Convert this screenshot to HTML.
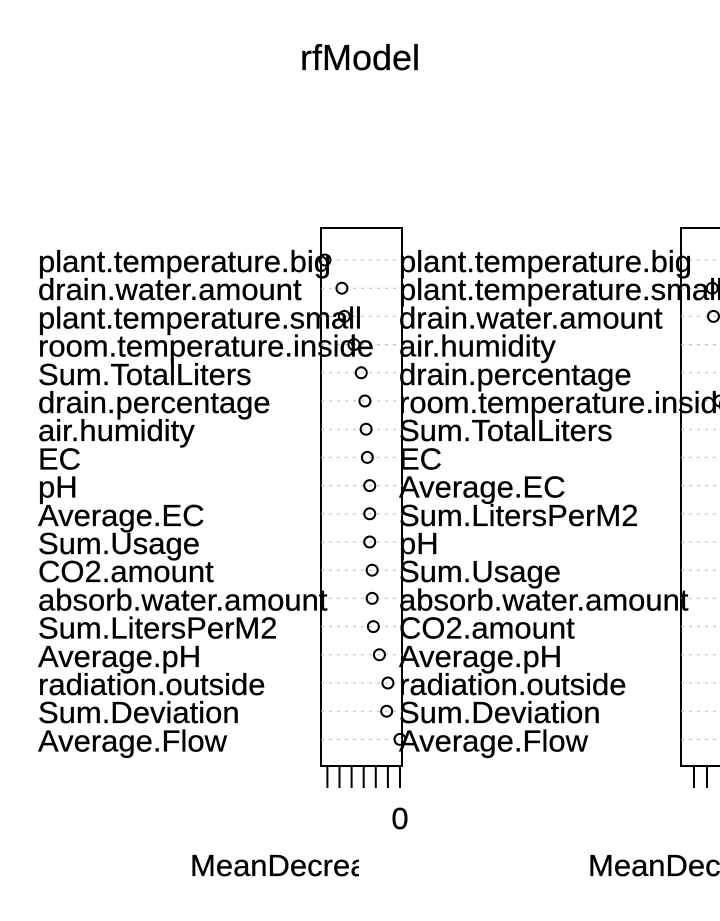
<!DOCTYPE html>
<html><head><meta charset="utf-8"><style>
html,body{margin:0;padding:0;background:#fff;width:720px;height:921px;overflow:hidden}
svg text{font-family:"Liberation Sans",Arial,sans-serif;fill:#000;stroke:#000;stroke-width:0.3}
</style></head><body>
<svg id="chart" width="720" height="921" viewBox="0 0 720 921" xmlns="http://www.w3.org/2000/svg">
<text x="360" y="70" font-size="36" text-anchor="middle">rfModel</text>
<g id="left"></g><g id="right"></g>
<clipPath id="clipL"><rect x="0" y="830" width="359" height="60"/></clipPath>
<text x="190" y="876" font-size="31" clip-path="url(#clipL)">MeanDecreaseAccuracy</text>
<text x="588" y="876" font-size="31">MeanDecreaseGini</text>
</svg>
<script>
const leftLabels=["plant.temperature.big","drain.water.amount","plant.temperature.small","room.temperature.inside","Sum.TotalLiters","drain.percentage","air.humidity","EC","pH","Average.EC","Sum.Usage","CO2.amount","absorb.water.amount","Sum.LitersPerM2","Average.pH","radiation.outside","Sum.Deviation","Average.Flow"];
const leftValues=[-6.2,-4.8,-4.6,-3.8,-3.2,-2.9,-2.8,-2.7,-2.5,-2.5,-2.5,-2.3,-2.3,-2.2,-1.7,-1.0,-1.1,0];
const leftTicks=[-6,-5,-4,-3,-2,-1,0];
const rightLabels=["plant.temperature.big","plant.temperature.small","drain.water.amount","air.humidity","drain.percentage","room.temperature.inside","Sum.TotalLiters","EC","Average.EC","Sum.LitersPerM2","pH","Sum.Usage","absorb.water.amount","CO2.amount","Average.pH","radiation.outside","Sum.Deviation","Average.Flow"];
const rightValues=[0.5,-1.6,-1.5,-0.2,-0.1,-1.0,0,0,0,0,0,0,0,0,0,0,0,0];
const rightTicks=[-3,-2];
const NS="http://www.w3.org/2000/svg";
const rowY=i=>260+i*28.2;
function mk(tag,attrs,parent){const e=document.createElementNS(NS,tag);for(const k in attrs)e.setAttribute(k,attrs[k]);parent.appendChild(e);return e;}
function panel(g,labels,values,ticks,labX,boxL,boxR,xs,side){
  const box=mk('rect',{x:boxL,y:228,width:boxR-boxL,height:538,fill:'none',stroke:'#000','stroke-width':2},g);
  
  
  labels.forEach((l,i)=>{
    const y=rowY(i);
    const ln=mk('line',{x1:boxL,x2:boxR,y1:y,y2:y,stroke:'#bbb','stroke-dasharray':'3 5','stroke-width':1},g);
    
    
  });
  values.forEach((v,i)=>{
    const c=mk('circle',{cx:xs(v),cy:rowY(i),r:5.5,fill:'none',stroke:'#000','stroke-width':2},g);
    
    
  });
  labels.forEach((l,i)=>{
    const t=mk('text',{x:labX,y:rowY(i)+12,'font-size':31},g);t.textContent=l;
    
    
  });
  ticks.forEach(t=>{
    const tk=mk('line',{x1:xs(t),x2:xs(t),y1:766,y2:788,stroke:'#000','stroke-width':2},g);
    
    
  });
}
const xsL=v=>400+v*12.1;
panel(document.getElementById('left'),leftLabels,leftValues,leftTicks,38,321,402,xsL,'left');
const zl=document.createElementNS(NS,'text');
zl.setAttribute('x',xsL(0));zl.setAttribute('y',829);zl.setAttribute('font-size',31);zl.setAttribute('text-anchor','middle');
zl.textContent='0';


document.getElementById('left').appendChild(zl);
const xsR=v=>733+v*13;
panel(document.getElementById('right'),rightLabels,rightValues,rightTicks,399,681,780,xsR,'right');
</script>
</body></html>
